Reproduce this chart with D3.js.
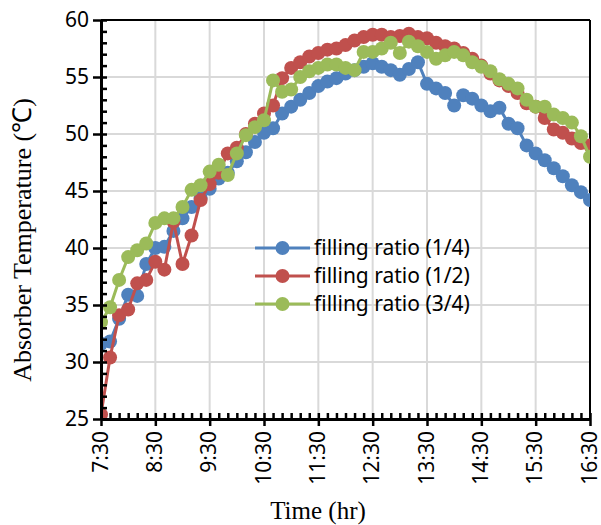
<!DOCTYPE html>
<html>
<head>
<meta charset="utf-8">
<script src="https://cdn.jsdelivr.net/npm/d3@7/dist/d3.min.js"></script>
<style>
  body { margin: 0; background: #fff; }
  svg { display: block; }
  .tick text { font-family: "Noto Sans", sans-serif; font-size: 21px; fill: #000; }
</style>
</head>
<body>
<svg width="601" height="525"></svg>
<script>
// sample times (clock) shared by the three series
var times = ["7:30","7:40","7:50","8:00","8:10","8:20","8:30","8:40","8:50","9:00",
             "9:10","9:20","9:30","9:40","9:50","10:00","10:10","10:20","10:30","10:40",
             "10:50","11:00","11:10","11:20","11:30","11:40","11:50","12:00","12:10","12:20",
             "12:30","12:40","12:50","13:00","13:10","13:20","13:30","13:40","13:50","14:00",
             "14:10","14:20","14:30","14:40","14:50","15:00","15:10","15:20","15:30","15:40",
             "15:50","16:00","16:10","16:20","16:30"];

var quarter = [31.6,31.8,33.8,35.9,35.8,38.6,40.0,40.1,41.5,42.6,
               43.6,44.4,45.2,46.1,46.6,47.6,48.4,49.3,50.1,50.5,
               51.8,52.4,53.0,53.6,54.2,54.6,54.9,55.3,55.6,55.9,
               56.2,55.9,55.6,55.2,55.7,56.3,54.4,54.0,53.6,52.5,
               53.4,53.1,52.5,52.0,52.3,50.9,50.5,49.0,48.3,47.7,
               47.0,46.3,45.5,44.9,44.2];

var half = [25.4,30.4,34.1,34.6,36.9,37.2,38.8,38.1,42.3,38.6,
            41.1,44.2,45.6,46.6,48.3,48.8,50.0,50.9,51.8,52.5,
            54.9,55.8,56.3,56.8,57.1,57.4,57.5,57.8,58.2,58.5,
            58.7,58.7,58.5,58.6,58.8,58.5,58.4,58.0,57.7,57.5,
            57.1,56.6,56.0,55.3,54.7,54.2,53.6,52.7,52.4,51.4,
            50.4,50.1,49.6,49.2,49.0];

var threeQuarter = [33.5,34.8,37.2,39.2,39.8,40.4,42.2,42.6,42.6,43.6,
                    45.1,45.5,46.7,47.3,46.4,48.3,49.9,50.6,51.2,54.7,
                    53.7,53.9,55.0,55.5,55.8,56.1,56.1,55.8,55.6,57.2,
                    57.2,57.5,58.0,57.1,58.1,57.7,57.2,56.6,56.9,57.2,
                    56.9,56.3,55.9,55.5,54.8,54.4,54.0,53.0,52.4,52.4,
                    51.7,51.4,51.0,49.8,48.0];

var seriesNames = ["filling ratio (1/4)", "filling ratio (1/2)", "filling ratio (3/4)"];
var seriesColors = ["#4F81BD", "#C0504D", "#9BBB59"];
var xTickLabels = ["7:30","8:30","9:30","10:30","11:30","12:30","13:30","14:30","15:30","16:30"];
var yTicks = [25, 30, 35, 40, 45, 50, 55, 60];

var margin = {top: 20, right: 11, bottom: 106, left: 101},
    width = 601 - margin.left - margin.right,
    height = 525 - margin.top - margin.bottom;

function toHours(s) {
    var p = s.split(":");
    return +p[0] + (+p[1]) / 60;
}

var svg = d3.select("svg");
var g = svg.append("g").attr("transform", "translate(" + margin.left + "," + margin.top + ")");

var xScale = d3.scaleLinear().domain([7.5, 16.5]).range([0, width]);
var yScale = d3.scaleLinear().domain([25, 60]).range([height, 0]);

// gridlines
g.append("g").selectAll("line").data(xTickLabels).enter().append("line")
    .attr("x1", function (d) { return xScale(toHours(d)); })
    .attr("x2", function (d) { return xScale(toHours(d)); })
    .attr("y1", 0).attr("y2", height)
    .attr("stroke", "#d9d9d9").attr("stroke-width", 2);
g.append("g").selectAll("line").data(yTicks).enter().append("line")
    .attr("x1", 0).attr("x2", width)
    .attr("y1", function (d) { return yScale(d); })
    .attr("y2", function (d) { return yScale(d); })
    .attr("stroke", "#d9d9d9").attr("stroke-width", 2);

// top / right border
g.append("line").attr("x1", 0).attr("x2", width).attr("y1", 0).attr("y2", 0)
    .attr("stroke", "#000").attr("stroke-width", 2);
g.append("line").attr("x1", width).attr("x2", width).attr("y1", 0).attr("y2", height)
    .attr("stroke", "#000").attr("stroke-width", 2);

// series
g.append("clipPath").attr("id", "plotClip").append("rect")
    .attr("width", width).attr("height", height);

var allSeries = [quarter, half, threeQuarter];
var line = d3.line()
    .x(function (d, i) { return xScale(toHours(times[i])); })
    .y(function (d) { return yScale(d); });

var plot = g.append("g").attr("clip-path", "url(#plotClip)");
allSeries.forEach(function (vals, k) {
    var s = plot.append("g");
    s.append("path").datum(vals)
        .attr("d", line)
        .attr("fill", "none")
        .attr("stroke", seriesColors[k])
        .attr("stroke-width", 3);
    s.selectAll("circle").data(vals).enter().append("circle")
        .attr("cx", function (d, i) { return xScale(toHours(times[i])); })
        .attr("cy", function (d) { return yScale(d); })
        .attr("r", 7)
        .attr("fill", seriesColors[k]);
});

// axes
var xMinor = times.map(toHours);
var yMinor = d3.range(25, 61, 1);

g.append("g").attr("transform", "translate(0," + height + ")")
    .call(d3.axisBottom(xScale).tickValues(xMinor).tickSize(-6).tickFormat(""))
    .call(function (a) { a.select(".domain").remove(); a.selectAll("line").attr("stroke-width", 2.5); });
var xAxis = g.append("g").attr("transform", "translate(0," + height + ")")
    .call(d3.axisBottom(xScale)
        .tickValues(xTickLabels.map(toHours))
        .tickSize(7).tickSizeOuter(0)
        .tickFormat(function (d, i) { return xTickLabels[i]; }));
xAxis.select(".domain").attr("stroke-width", 3);
xAxis.selectAll("line").attr("stroke-width", 2.5);
xAxis.selectAll("text")
    .attr("transform", "rotate(-90)")
    .attr("text-anchor", "end")
    .attr("x", -12)
    .attr("y", 0)
    .attr("dy", "0.3em");

g.append("g")
    .call(d3.axisLeft(yScale).tickValues(yMinor).tickSize(-6).tickFormat(""))
    .call(function (a) { a.select(".domain").remove(); a.selectAll("line").attr("stroke-width", 2.5); });
var yAxis = g.append("g")
    .call(d3.axisLeft(yScale).tickValues(yTicks).tickSize(8).tickSizeOuter(0).tickPadding(4));
yAxis.select(".domain").attr("stroke-width", 3);
yAxis.selectAll("line").attr("stroke-width", 2.5);

// axis titles
svg.append("text")
    .attr("x", 318).attr("y", 519)
    .attr("text-anchor", "middle")
    .style("font-family", "'Liberation Serif', 'Times New Roman', serif")
    .style("font-size", "25px")
    .text("Time (hr)");
svg.append("text")
    .attr("transform", "translate(31,240) rotate(-90)")
    .attr("text-anchor", "middle")
    .style("font-family", "'Liberation Serif', 'Times New Roman', serif")
    .style("font-size", "26px")
    .text("Absorber Temperature (℃)");

// legend
var legend = svg.append("g").attr("transform", "translate(255,248)");
seriesNames.forEach(function (name, k) {
    var row = legend.append("g").attr("transform", "translate(0," + (k * 28) + ")");
    row.append("line").attr("x1", 0).attr("x2", 55).attr("y1", 0).attr("y2", 0)
        .attr("stroke", seriesColors[k]).attr("stroke-width", 3);
    row.append("circle").attr("cx", 27.5).attr("cy", 0).attr("r", 7).attr("fill", seriesColors[k]);
    row.append("text").attr("x", 59).attr("y", 0).attr("dy", "0.35em")
        .style("font-family", "'Noto Sans', sans-serif")
        .style("font-size", "21px")
        .text(name);
});
</script>
</body>
</html>
